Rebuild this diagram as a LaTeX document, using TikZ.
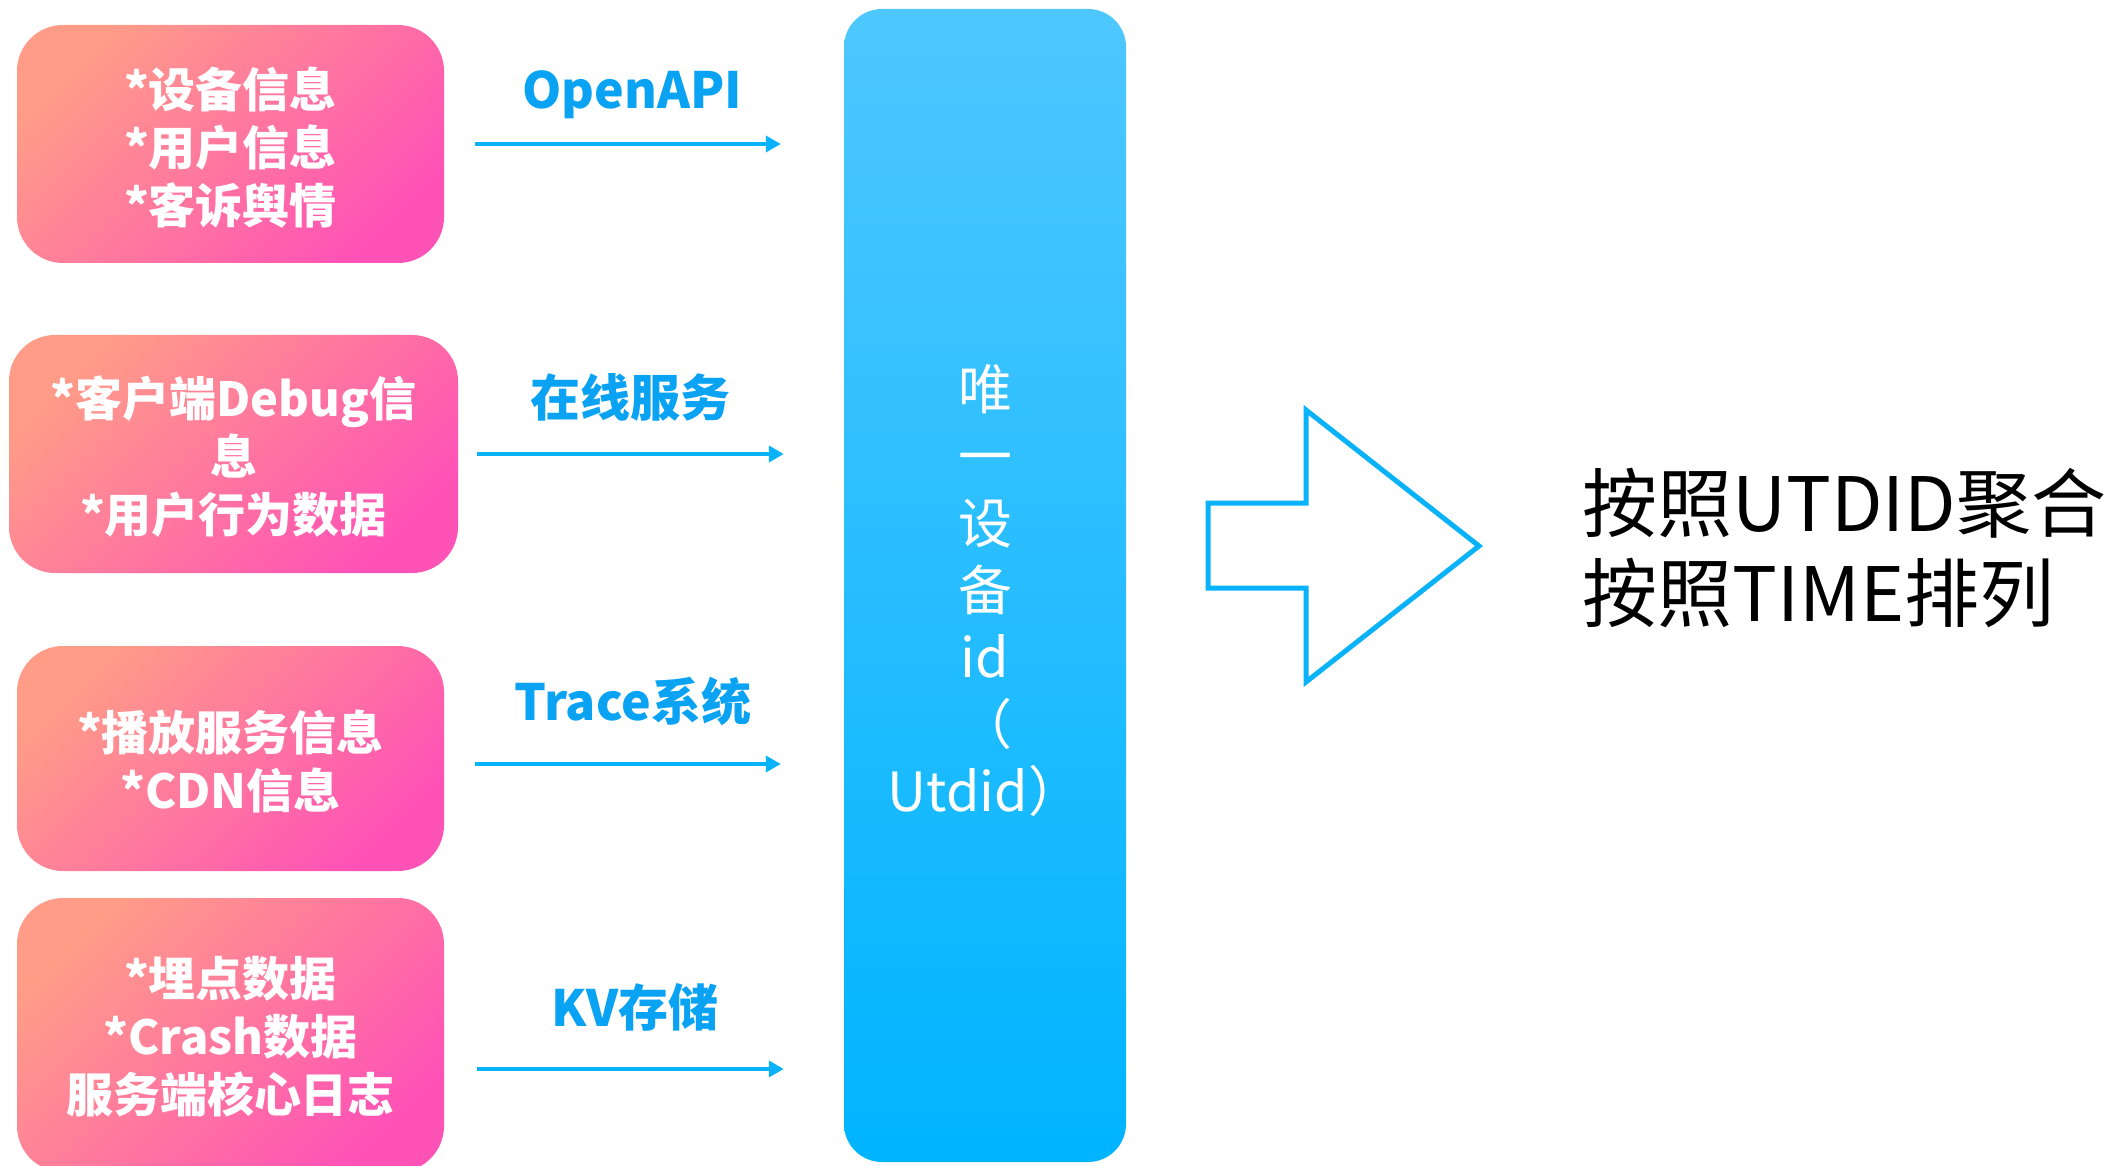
\documentclass[tikz,border=0pt]{standalone}
\usepackage{fontspec}
\usetikzlibrary{arrows.meta}
\newfontfamily\cjk{Noto Sans CJK SC}
\definecolor{peach}{HTML}{FF9C88}
\definecolor{hotpink}{HTML}{FF52B6}
\definecolor{skytop}{HTML}{4EC7FF}
\definecolor{skybot}{HTML}{00B4FF}
\definecolor{flowblue}{HTML}{0AB2FA}
\definecolor{labelblue}{HTML}{0AA2F2}
\begin{document}
\begin{tikzpicture}[x=1pt,y=-1pt,
  srcbox/.style={rounded corners=46pt, draw=none, top color=peach, bottom color=hotpink,
    shading angle=45, inner sep=0pt},
  srctext/.style={text=white, align=center, inner sep=0pt,
    font=\cjk\bfseries\fontsize{47}{58}\selectfont},
  idbar/.style={rounded corners=38pt, draw=none, top color=skytop, bottom color=skybot,
    inner sep=0pt},
  idtext/.style={text=white, align=center, inner sep=0pt,
    font=\cjk\fontsize{54}{67}\selectfont},
  flow/.style={draw=flowblue, line width=4.5pt, -{Triangle[length=15pt,width=16pt]}},
  lbl/.style={text=labelblue, font=\cjk\bfseries\fontsize{50}{60}\selectfont, inner sep=0pt},
  bigarrow/.style={draw=flowblue, line width=5pt, line join=miter},
  result/.style={font=\cjk\fontsize{75}{90}\selectfont, align=left, inner sep=0pt, anchor=west}]
\useasboundingbox (0,0) rectangle (2105,1166);

% data sources
\node[srcbox, minimum width=427pt, minimum height=238pt] (b1) at (230.5,144) {};
\node[srcbox, minimum width=449pt, minimum height=238pt] (b2) at (233.5,454) {};
\node[srcbox, minimum width=427pt, minimum height=225pt] (b3) at (230.5,758.5) {};
\node[srcbox, minimum width=427pt, minimum height=274pt] (b4) at (230.5,1035) {};
\node[srctext] (t1) at ([yshift=-4pt]b1.center) {*设备信息\\*用户信息\\*客诉舆情};
\node[srctext] (t2) at ([yshift=-3pt]b2.center) {*客户端Debug信\\息\\*用户行为数据};
\node[srctext] (t3) at ([yshift=-3pt]b3.center) {*播放服务信息\\*CDN信息};
\node[srctext] (t4) at ([yshift=-2pt]b4.center) {*埋点数据\\*Crash数据\\服务端核心日志};

% unique device id bar
\node[idbar, minimum width=282pt, minimum height=1153pt] (bar) at (985,585.5) {};
\node[idtext] (bartext) at ([yshift=-5pt]bar.center) {唯\\一\\设\\备\\id\\（\\Utdid）};

% transfer channels
\coordinate (y1) at (0,144);
\coordinate (y2) at (0,454);
\coordinate (y3) at (0,764);
\coordinate (y4) at (0,1069);
\draw[flow, shorten <=31pt, shorten >=63pt] (b1.east |- y1) -- (bar.west |- y1);
\draw[flow, shorten <=19pt, shorten >=60pt] (b2.east |- y2) -- (bar.west |- y2);
\draw[flow, shorten <=31pt, shorten >=63pt] (b3.east |- y3) -- (bar.west |- y3);
\draw[flow, shorten <=33pt, shorten >=60pt] (b4.east |- y4) -- (bar.west |- y4);

\node[lbl] (l1) at (632,95) {OpenAPI};
\node[lbl] (l2) at (630,397) {在线服务};
\node[lbl] (l3) at (633,701) {Trace系统};
\node[lbl] (l4) at (635,1007) {KV存储};

% outcome
\draw[bigarrow] (1208,503) -- (1306,503) -- (1306,410) -- (1479,546)
  -- (1306,682) -- (1306,588) -- (1208,588) -- cycle;
\node[result] (res) at (1582,548) {按照UTDID聚合\\按照TIME排列};
\end{tikzpicture}
\end{document}
